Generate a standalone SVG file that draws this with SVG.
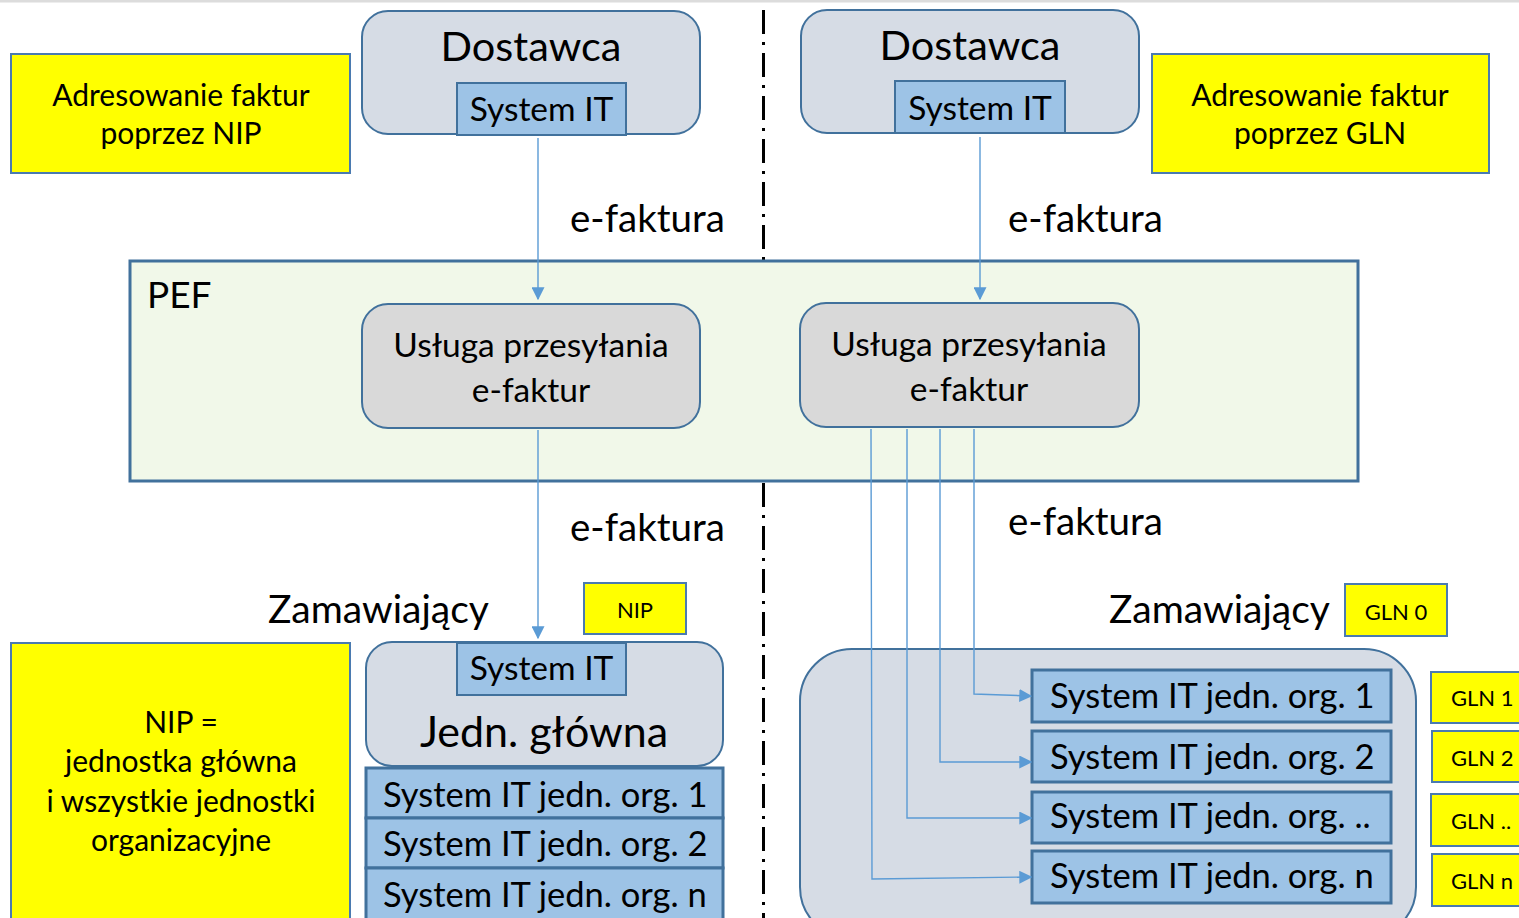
<svg xmlns="http://www.w3.org/2000/svg" width="1519" height="918" viewBox="0 0 1519 918">
  <style>
    text { font-family: Lato, "Open Sans", "Liberation Sans", sans-serif; fill: #000; }
    .note { fill: #ffff00; stroke: #4a7ab0; stroke-width: 2; }
    .org { fill: #d6dce5; stroke: #41719c; stroke-width: 2; }
    .svc { fill: #d9d9d9; stroke: #41719c; stroke-width: 2; }
    .sys { fill: #9dc3e6; stroke: #41719c; stroke-width: 2; }
    .row { fill: #9dc3e6; stroke: #41719c; stroke-width: 3; }
    .pef { fill: #f1f8e9; stroke: #41719c; stroke-width: 3; }
    .flow { fill: none; stroke: #5b9bd5; stroke-width: 1.4; marker-end: url(#arr); }
    .c { text-anchor: middle; }
    .addr { font-size: 30px; }
    .sysl { font-size: 33.5px; }
    .rowl { font-size: 34.5px; }
    .inv { font-size: 38.5px; }
    .buyer { font-size: 39px; }
    .code { font-size: 22px; }
  </style>
  <defs>
    <marker id="arr" viewBox="0 0 10 10" refX="9" refY="5" markerWidth="13" markerHeight="13" markerUnits="userSpaceOnUse" orient="auto">
      <path d="M0,0 L10,5 L0,10 z" fill="#5b9bd5"/>
    </marker>
  </defs>

  <rect x="0" y="0" width="1519" height="918" fill="#fff"/>
  <rect x="0" y="0" width="1519" height="2.5" fill="#dcdcdc"/>

  <!-- divider between the two addressing schemes -->
  <line x1="763.5" y1="10" x2="763.5" y2="918" stroke="#000" stroke-width="3" stroke-dasharray="24 8 3 8"/>

  <!-- PEF platform -->
  <g id="pef">
    <rect class="pef" x="130" y="261" width="1228" height="220"/>
    <text x="147" y="308" font-size="37">PEF</text>
  </g>

  <!-- left: NIP addressing -->
  <g id="note-nip">
    <rect class="note" x="11" y="54" width="339" height="119"/>
    <text class="c addr" x="181" y="106">Adresowanie faktur</text>
    <text class="c addr" x="181" y="144">poprzez NIP</text>
  </g>
  <g id="supplier-left">
    <rect class="org" x="362" y="11" width="338" height="123" rx="26"/>
    <text class="c" x="531" y="61" font-size="41.5">Dostawca</text>
    <rect class="sys" x="457" y="83" width="169" height="52"/>
    <text class="c sysl" x="541.5" y="121">System IT</text>
  </g>
  <g id="service-left">
    <rect class="svc" x="362" y="304" width="338" height="124" rx="26"/>
    <text class="c" x="531" y="357" font-size="33.5">Usługa przesyłania</text>
    <text class="c" x="531" y="402" font-size="33.5">e-faktur</text>
  </g>
  <g id="buyer-left">
    <text class="buyer" x="268" y="623">Zamawiający</text>
    <rect class="note" x="584" y="583" width="102" height="51"/>
    <text class="c code" x="635" y="618">NIP</text>
    <rect class="org" x="366" y="642" width="357" height="124" rx="26"/>
    <rect class="sys" x="457" y="643" width="169" height="52"/>
    <text class="c sysl" x="541.5" y="680">System IT</text>
    <text class="c" x="544" y="747" font-size="43">Jedn. główna</text>
    <rect class="row" x="366" y="768" width="357" height="50"/>
    <text class="rowl" x="383" y="807">System IT jedn. org. 1</text>
    <rect class="row" x="366" y="818" width="357" height="50"/>
    <text class="rowl" x="383" y="856">System IT jedn. org. 2</text>
    <rect class="row" x="366" y="868" width="357" height="52"/>
    <text class="rowl" x="383" y="907">System IT jedn. org. n</text>
  </g>
  <g id="note-nip-scope">
    <rect class="note" x="11" y="643" width="339" height="280"/>
    <text class="c addr" x="181" y="733">NIP =</text>
    <text class="c addr" x="181" y="772">jednostka główna</text>
    <text class="c addr" x="181" y="812">i wszystkie jednostki</text>
    <text class="c addr" x="181" y="851">organizacyjne</text>
  </g>

  <!-- right: GLN addressing -->
  <g id="supplier-right">
    <rect class="org" x="801" y="10" width="338" height="123" rx="26"/>
    <text class="c" x="970" y="60" font-size="41.5">Dostawca</text>
    <rect class="sys" x="895" y="81" width="170" height="52"/>
    <text class="c sysl" x="980" y="120">System IT</text>
  </g>
  <g id="note-gln">
    <rect class="note" x="1152" y="54" width="337" height="119"/>
    <text class="c addr" x="1320" y="106">Adresowanie faktur</text>
    <text class="c addr" x="1320" y="144">poprzez GLN</text>
  </g>
  <g id="service-right">
    <rect class="svc" x="800" y="303" width="339" height="124" rx="26"/>
    <text class="c" x="969" y="356" font-size="33.5">Usługa przesyłania</text>
    <text class="c" x="969" y="401" font-size="33.5">e-faktur</text>
  </g>
  <g id="buyer-right">
    <text class="buyer" x="1109" y="623">Zamawiający</text>
    <rect class="note" x="1345" y="584" width="102" height="52"/>
    <text class="c code" x="1396" y="620">GLN 0</text>
    <rect class="org" x="800" y="649" width="616" height="290" rx="52"/>
    <rect class="row" x="1032" y="670" width="359" height="52"/>
    <text class="rowl" x="1050" y="708">System IT jedn. org. 1</text>
    <rect class="row" x="1032" y="731" width="359" height="51"/>
    <text class="rowl" x="1050" y="769">System IT jedn. org. 2</text>
    <rect class="row" x="1032" y="792" width="359" height="51"/>
    <text class="rowl" x="1050" y="828">System IT jedn. org. ..</text>
    <rect class="row" x="1032" y="851" width="359" height="52"/>
    <text class="rowl" x="1050" y="888">System IT jedn. org. n</text>
  </g>
  <g id="gln-codes">
    <rect class="note" x="1431" y="672" width="100" height="51"/>
    <text class="code" x="1451" y="706">GLN 1</text>
    <rect class="note" x="1432" y="731" width="100" height="51"/>
    <text class="code" x="1451" y="766">GLN 2</text>
    <rect class="note" x="1431" y="794" width="100" height="52"/>
    <text class="code" x="1451" y="829">GLN ..</text>
    <rect class="note" x="1432" y="854" width="100" height="52"/>
    <text class="code" x="1451" y="889">GLN n</text>
  </g>

  <!-- invoice flows -->
  <g id="connectors">
    <line class="flow" x1="538" y1="138" x2="538" y2="299"/>
    <line class="flow" x1="538" y1="430" x2="538" y2="638"/>
    <line class="flow" x1="980" y1="137" x2="980" y2="299"/>
    <polyline class="flow" points="974,429 974,694 1031,696"/>
    <polyline class="flow" points="940,429 940,762 1031,762"/>
    <polyline class="flow" points="907,429 907,818 1031,818"/>
    <polyline class="flow" points="871,429 872,879 1031,877"/>
  </g>
  <g id="labels">
    <text class="inv" x="570" y="232">e-faktura</text>
    <text class="inv" x="1008" y="232">e-faktura</text>
    <text class="inv" x="570" y="541">e-faktura</text>
    <text class="inv" x="1008" y="535">e-faktura</text>
  </g>
</svg>
